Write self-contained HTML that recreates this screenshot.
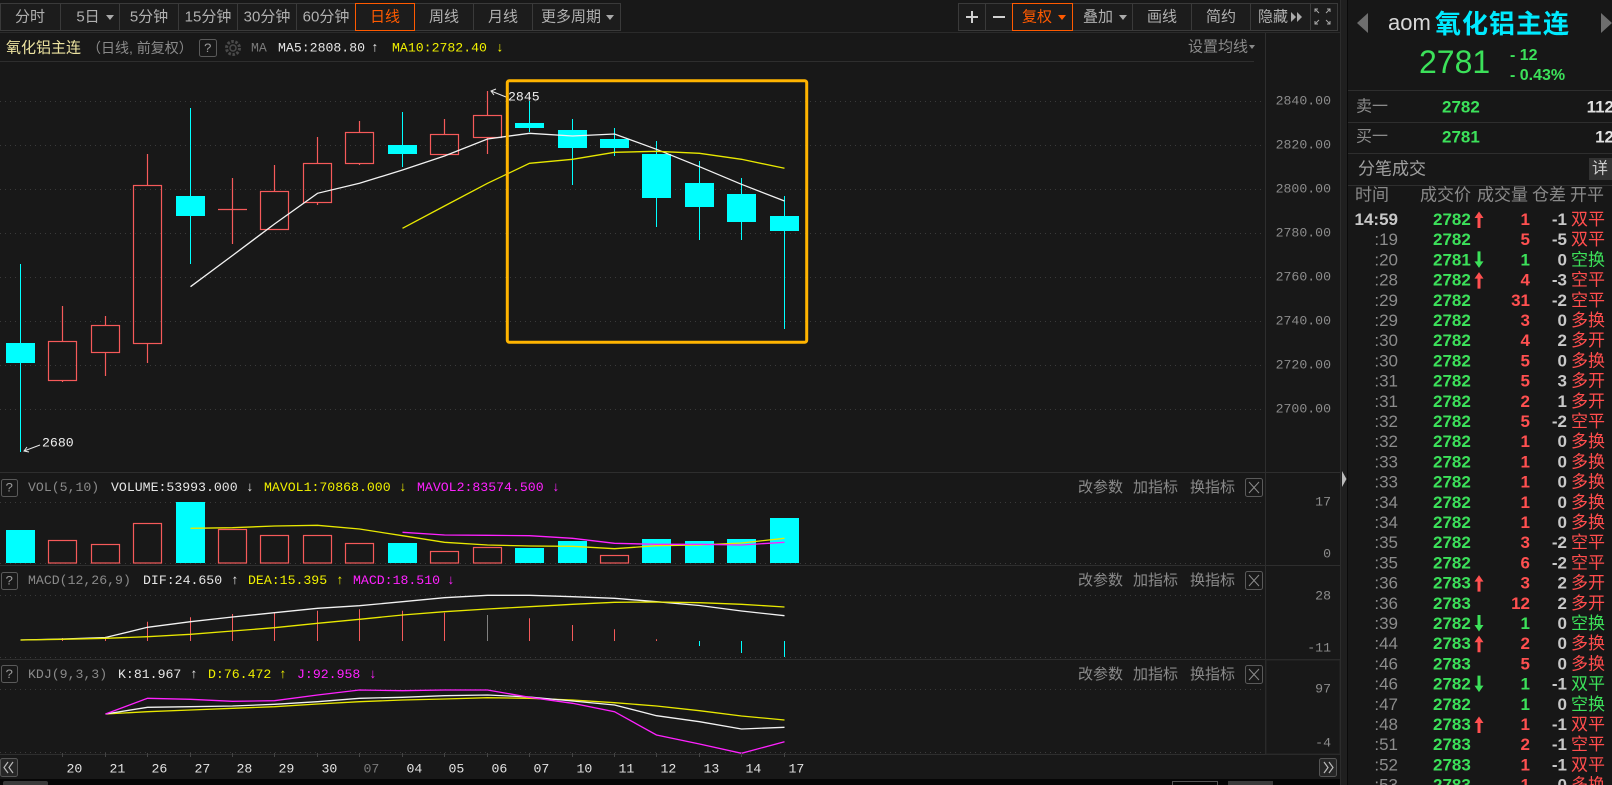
<!DOCTYPE html>
<html><head><meta charset="utf-8">
<style>
html,body{margin:0;padding:0;background:#181818;width:1612px;height:785px;overflow:hidden}
svg{display:block}
.m{font-family:"Liberation Mono","DejaVu Sans Mono",monospace;font-size:13.2px}
.s{font-family:"Liberation Sans","Noto Sans CJK SC",sans-serif}
</style></head><body>
<svg width="1612" height="785" viewBox="0 0 1612 785" xmlns="http://www.w3.org/2000/svg">
<rect x="0" y="0" width="1612" height="785" fill="#181818"/>

<!-- toolbar left -->
<g fill="#1c1c1c" stroke="#3a3a3a" stroke-width="1">
<rect x="0.5" y="3.5" width="60" height="27"/>
<rect x="60.5" y="3.5" width="59" height="27"/>
<rect x="119.5" y="3.5" width="59" height="27"/>
<rect x="178.5" y="3.5" width="59" height="27"/>
<rect x="237.5" y="3.5" width="59" height="27"/>
<rect x="296.5" y="3.5" width="59" height="27"/>
<rect x="414.5" y="3.5" width="59" height="27"/>
<rect x="473.5" y="3.5" width="59" height="27"/>
<rect x="532.5" y="3.5" width="88" height="27"/>
</g>
<rect x="355.5" y="3.5" width="59" height="27" fill="#1c1c1c" stroke="#ff5a00"/>
<g class="s" font-size="15" fill="#b0b0b0" text-anchor="middle" dominant-baseline="central">
<text x="30" y="17">分时</text>
<text x="88" y="17">5日</text>
<text x="149" y="17">5分钟</text>
<text x="208" y="17">15分钟</text>
<text x="267" y="17">30分钟</text>
<text x="326" y="17">60分钟</text>
<text x="385" y="17" fill="#ff5a00">日线</text>
<text x="444" y="17">周线</text>
<text x="503" y="17">月线</text>
<text x="571" y="17">更多周期</text>
</g>
<polygon points="106,15 114,15 110,20" fill="#aaa"/>
<polygon points="606,15 614,15 610,20" fill="#aaa"/>

<!-- toolbar right -->
<g fill="#1c1c1c" stroke="#3a3a3a" stroke-width="1">
<rect x="958.5" y="3.5" width="27" height="27"/>
<rect x="985.5" y="3.5" width="27" height="27"/>
<rect x="1072.5" y="3.5" width="60" height="27"/>
<rect x="1132.5" y="3.5" width="59" height="27"/>
<rect x="1191.5" y="3.5" width="59" height="27"/>
<rect x="1250.5" y="3.5" width="60" height="27"/>
<rect x="1310.5" y="3.5" width="27" height="27"/>
</g>
<rect x="1012.5" y="3.5" width="60" height="27" fill="#1c1c1c" stroke="#ff5a00"/>
<g stroke="#d0d0d0" stroke-width="2">
<line x1="966" y1="17" x2="978" y2="17"/><line x1="972" y1="11" x2="972" y2="23"/>
<line x1="993" y1="17" x2="1005" y2="17"/>
</g>
<g class="s" font-size="15" fill="#b0b0b0" text-anchor="middle" dominant-baseline="central">
<text x="1037" y="17" fill="#ff5a00">复权</text>
<text x="1098" y="17">叠加</text>
<text x="1162" y="17">画线</text>
<text x="1221" y="17">简约</text>
<text x="1273" y="17">隐藏</text>
</g>
<polygon points="1058,15 1066,15 1062,20" fill="#ff5a00"/>
<polygon points="1119,15 1127,15 1123,20" fill="#aaa"/>
<polygon points="1291,12 1296,17 1291,22" fill="#aaa"/>
<polygon points="1297,12 1302,17 1297,22" fill="#aaa"/>
<g stroke="#aaa" stroke-width="1" fill="none">
<polyline points="1315,12 1315,9 1318,9"/><line x1="1315" y1="9" x2="1319" y2="13"/>
<polyline points="1327,9 1330,9 1330,12"/><line x1="1330" y1="9" x2="1326" y2="13"/>
<polyline points="1315,21 1315,24 1318,24"/><line x1="1315" y1="24" x2="1319" y2="20"/>
<polyline points="1327,24 1330,24 1330,21"/><line x1="1330" y1="24" x2="1326" y2="20"/>
</g>
<line x1="0" y1="32.5" x2="1340" y2="32.5" stroke="#2a2a2a"/>

<!-- info row -->
<text class="s" x="6" y="48" font-size="15" fill="#ede3a0" dominant-baseline="central">氧化铝主连</text>
<text class="s" x="87" y="48" font-size="14" fill="#8a8a8a" dominant-baseline="central">（日线, 前复权）</text>
<rect x="199.5" y="39.5" width="17" height="17" rx="2" fill="none" stroke="#5a5a5a"/>
<text class="m" x="208" y="48.5" fill="#9a9a9a" text-anchor="middle" dominant-baseline="central">?</text>
<circle cx="233" cy="48" r="6.5" fill="none" stroke="#4a4a4a" stroke-width="3" stroke-dasharray="2.5 1.6"/>
<circle cx="233" cy="48" r="3" fill="none" stroke="#4a4a4a" stroke-width="1.5"/>
<g class="m" dominant-baseline="central">
<text x="251" y="48" fill="#7a7a7a">MA</text>
<text x="278" y="48" fill="#e6e6e6">MA5:2808.80</text>
<text x="371" y="48" fill="#e6e6e6">↑</text>
<text x="392" y="48" fill="#f0f000">MA10:2782.40</text>
<text x="496" y="48" fill="#f0f000">↓</text>
</g>
<text class="s" x="1248" y="47" font-size="15" fill="#8a8a8a" text-anchor="end" dominant-baseline="central">设置均线</text>
<polygon points="1249,45 1255,45 1252,49" fill="#8a8a8a"/>
<line x1="0" y1="61.5" x2="1254" y2="61.5" stroke="#2e2e2e"/>

<!-- axis separator -->
<line x1="1265.5" y1="33" x2="1265.5" y2="754" stroke="#2e2e2e"/>

<!-- price grid -->
<g stroke="#3a3a3a" stroke-dasharray="1 4">
<line x1="0" y1="101.5" x2="1262" y2="101.5"/>
<line x1="0" y1="145.5" x2="1262" y2="145.5"/>
<line x1="0" y1="189.5" x2="1262" y2="189.5"/>
<line x1="0" y1="233.5" x2="1262" y2="233.5"/>
<line x1="0" y1="277.5" x2="1262" y2="277.5"/>
<line x1="0" y1="321.5" x2="1262" y2="321.5"/>
<line x1="0" y1="365.5" x2="1262" y2="365.5"/>
<line x1="0" y1="409.5" x2="1262" y2="409.5"/>
</g>
<g class="m" fill="#8c8c8c" text-anchor="end" dominant-baseline="central" font-size="13">
<text x="1331" y="101">2840.00</text>
<text x="1331" y="145">2820.00</text>
<text x="1331" y="189">2800.00</text>
<text x="1331" y="233">2780.00</text>
<text x="1331" y="277">2760.00</text>
<text x="1331" y="321">2740.00</text>
<text x="1331" y="365">2720.00</text>
<text x="1331" y="409">2700.00</text>
</g>

<!-- candles -->
<g stroke="#00ffff" stroke-width="1">
<line x1="20.5" y1="264" x2="20.5" y2="452"/>
<line x1="190.5" y1="108" x2="190.5" y2="264"/>
<line x1="402.5" y1="112" x2="402.5" y2="167"/>
<line x1="529.5" y1="101" x2="529.5" y2="132"/>
<line x1="572.5" y1="119" x2="572.5" y2="185"/>
<line x1="614.5" y1="128" x2="614.5" y2="156"/>
<line x1="656.5" y1="141" x2="656.5" y2="227"/>
<line x1="699.5" y1="161" x2="699.5" y2="240"/>
<line x1="741.5" y1="178" x2="741.5" y2="240"/>
<line x1="784.5" y1="196" x2="784.5" y2="329"/>
</g>
<g fill="#00ffff">
<rect x="6" y="343" width="29" height="20"/>
<rect x="176" y="196" width="29" height="20"/>
<rect x="388" y="145" width="29" height="9"/>
<rect x="515" y="123" width="29" height="5"/>
<rect x="558" y="130" width="29" height="18"/>
<rect x="600" y="139" width="29" height="9"/>
<rect x="642" y="154" width="29" height="44"/>
<rect x="685" y="183" width="29" height="24"/>
<rect x="727" y="194" width="29" height="28"/>
<rect x="770" y="216" width="29" height="15"/>
</g>
<g stroke="#f55a5a" stroke-width="1.2" fill="none">
<line x1="62.5" y1="306" x2="62.5" y2="341.5"/><rect x="48.5" y="341.5" width="28" height="39"/><line x1="62.5" y1="380.5" x2="62.5" y2="382"/>
<line x1="105.5" y1="316" x2="105.5" y2="325.5"/><rect x="91.5" y="325.5" width="28" height="27"/><line x1="105.5" y1="352.5" x2="105.5" y2="376"/>
<line x1="147.5" y1="154" x2="147.5" y2="185.5"/><rect x="133.5" y="185.5" width="28" height="158"/><line x1="147.5" y1="343.5" x2="147.5" y2="363"/>
<line x1="232.5" y1="178" x2="232.5" y2="244"/><line x1="218" y1="209.5" x2="247" y2="209.5"/>
<line x1="274.5" y1="165" x2="274.5" y2="191.5"/><rect x="260.5" y="191.5" width="28" height="38"/>
<line x1="317.5" y1="137" x2="317.5" y2="163.5"/><rect x="303.5" y="163.5" width="28" height="39"/><line x1="317.5" y1="202.5" x2="317.5" y2="205"/>
<line x1="359.5" y1="121" x2="359.5" y2="132.5"/><rect x="345.5" y="132.5" width="28" height="31"/><line x1="359.5" y1="163.5" x2="359.5" y2="165"/>
<line x1="444.5" y1="119" x2="444.5" y2="134.5"/><rect x="430.5" y="134.5" width="28" height="20"/>
<line x1="487.5" y1="91" x2="487.5" y2="115.5"/><rect x="473.5" y="115.5" width="28" height="22"/><line x1="487.5" y1="137.5" x2="487.5" y2="154"/>
</g>

<!-- MA lines -->
<polyline fill="none" stroke="#f2f2f2" stroke-width="1.3" points="190.5,286.7 232.5,255.5 274.5,224 317.5,193.3 359.5,183.3 402.5,170 444.5,156 487.5,139 529.5,133.3 572.5,136 614.5,134 656.5,149.3 699.5,166.7 741.5,184.3 784.5,201"/>
<polyline fill="none" stroke="#e8e800" stroke-width="1.3" points="402.5,228.3 444.5,206 487.5,183.3 529.5,163.3 572.5,159.3 614.5,152.3 656.5,151.3 699.5,153.3 741.5,159.3 784.5,168.3"/>

<!-- high/low labels -->
<g stroke="#e6e6e6" stroke-width="1" fill="none">
<line x1="491" y1="91" x2="506" y2="97"/>
<polyline points="496,89 491,91 494,95"/>
<line x1="24" y1="451" x2="40" y2="445"/>
<polyline points="27,447 24,451 29,452"/>
</g>
<text class="m" x="508" y="97" fill="#eeeeee" font-size="13" dominant-baseline="central">2845</text>
<text class="m" x="42" y="443" fill="#eeeeee" font-size="13" dominant-baseline="central">2680</text>

<!-- highlight box -->
<rect x="507.3" y="80.7" width="299.4" height="261.6" rx="2" fill="none" stroke="#ffb400" stroke-width="3"/>

<!-- panel separators -->
<g stroke="#2e2e2e" stroke-width="1">
<line x1="0" y1="472.5" x2="1340" y2="472.5"/>
<line x1="0" y1="565.5" x2="1340" y2="565.5"/>
<line x1="0" y1="659.5" x2="1340" y2="659.5"/>
<line x1="0" y1="754.5" x2="1340" y2="754.5"/>
</g>
<rect x="1266" y="660" width="74" height="94" fill="none" stroke="#262626"/>

<!-- sub-panel dotted lines -->
<g stroke="#3a3a3a" stroke-dasharray="1 4">
<line x1="0" y1="502.5" x2="1262" y2="502.5"/>
<line x1="0" y1="563.5" x2="1262" y2="563.5"/>
<line x1="0" y1="595.5" x2="1262" y2="595.5"/>
<line x1="0" y1="657.5" x2="1262" y2="657.5"/>
<line x1="0" y1="689.5" x2="1262" y2="689.5"/>
<line x1="0" y1="752.5" x2="1262" y2="752.5"/>
</g>

<!-- sub-panel headers -->
<g fill="none" stroke="#5a5a5a">
<rect x="1.5" y="479.5" width="16" height="17" rx="2"/>
<rect x="1.5" y="572.5" width="16" height="17" rx="2"/>
<rect x="1.5" y="665.5" width="16" height="17" rx="2"/>
<rect x="1245.5" y="478.5" width="17" height="18" rx="2"/>
<rect x="1245.5" y="571.5" width="17" height="18" rx="2"/>
<rect x="1245.5" y="665.5" width="17" height="18" rx="2"/>
</g>
<g stroke="#8a8a8a" stroke-width="1">
<line x1="1249" y1="482" x2="1259" y2="493"/><line x1="1259" y1="482" x2="1249" y2="493"/>
<line x1="1249" y1="575" x2="1259" y2="586"/><line x1="1259" y1="575" x2="1249" y2="586"/>
<line x1="1249" y1="669" x2="1259" y2="680"/><line x1="1259" y1="669" x2="1249" y2="680"/>
</g>
<g class="m" dominant-baseline="central">
<text x="9.5" y="488" fill="#9a9a9a" text-anchor="middle">?</text>
<text x="9.5" y="581" fill="#9a9a9a" text-anchor="middle">?</text>
<text x="9.5" y="674.5" fill="#9a9a9a" text-anchor="middle">?</text>
<text x="28" y="487.5" fill="#8a8a8a">VOL(5,10)</text>
<text x="111" y="487.5" fill="#e6e6e6">VOLUME:53993.000</text>
<text x="246" y="487.5" fill="#e6e6e6">↓</text>
<text x="264" y="487.5" fill="#f0f000">MAVOL1:70868.000</text>
<text x="399" y="487.5" fill="#f0f000">↓</text>
<text x="417" y="487.5" fill="#ff22ff">MAVOL2:83574.500</text>
<text x="552" y="487.5" fill="#ff22ff">↓</text>
<text x="28" y="580.7" fill="#8a8a8a">MACD(12,26,9)</text>
<text x="143" y="580.7" fill="#e6e6e6">DIF:24.650</text>
<text x="231" y="580.7" fill="#e6e6e6">↑</text>
<text x="248" y="580.7" fill="#f0f000">DEA:15.395</text>
<text x="336" y="580.7" fill="#f0f000">↑</text>
<text x="353" y="580.7" fill="#ff22ff">MACD:18.510</text>
<text x="447" y="580.7" fill="#ff22ff">↓</text>
<text x="28" y="674.3" fill="#8a8a8a">KDJ(9,3,3)</text>
<text x="118" y="674.3" fill="#e6e6e6">K:81.967</text>
<text x="190" y="674.3" fill="#e6e6e6">↑</text>
<text x="208" y="674.3" fill="#f0f000">D:76.472</text>
<text x="279" y="674.3" fill="#f0f000">↑</text>
<text x="297" y="674.3" fill="#ff22ff">J:92.958</text>
<text x="369" y="674.3" fill="#ff22ff">↓</text>
</g>
<g class="s" font-size="15" fill="#8a8a8a" dominant-baseline="central">
<text x="1078" y="487.5">改参数</text><text x="1133" y="487.5">加指标</text><text x="1190" y="487.5">换指标</text>
<text x="1078" y="580.7">改参数</text><text x="1133" y="580.7">加指标</text><text x="1190" y="580.7">换指标</text>
<text x="1078" y="674.3">改参数</text><text x="1133" y="674.3">加指标</text><text x="1190" y="674.3">换指标</text>
</g>
<g class="m" fill="#8c8c8c" text-anchor="end" dominant-baseline="central" font-size="13">
<text x="1331" y="502">17</text>
<text x="1331" y="554">0</text>
<text x="1331" y="596">28</text>
<text x="1331" y="648">-11</text>
<text x="1331" y="689">97</text>
<text x="1331" y="743">-4</text>
</g>

<!-- volume bars -->
<g fill="#00ffff">
<rect x="6" y="530" width="29" height="33"/>
<rect x="176" y="502" width="29" height="61"/>
<rect x="388" y="543" width="29" height="20"/>
<rect x="515" y="548" width="29" height="15"/>
<rect x="558" y="541" width="29" height="22"/>
<rect x="642" y="539" width="29" height="24"/>
<rect x="685" y="541" width="29" height="22"/>
<rect x="727" y="539" width="29" height="24"/>
<rect x="770" y="518" width="29" height="45"/>
</g>
<g fill="none" stroke="#f55a5a" stroke-width="1.2">
<rect x="48.5" y="540.5" width="28" height="22.5"/>
<rect x="91.5" y="544.5" width="28" height="18.5"/>
<rect x="133.5" y="523.5" width="28" height="39.5"/>
<rect x="218.5" y="529.5" width="28" height="33.5"/>
<rect x="260.5" y="535.5" width="28" height="27.5"/>
<rect x="303.5" y="535.5" width="28" height="27.5"/>
<rect x="345.5" y="543.5" width="28" height="19.5"/>
<rect x="430.5" y="551.5" width="28" height="11.5"/>
<rect x="473.5" y="547.5" width="28" height="15.5"/>
<rect x="600.5" y="555.5" width="28" height="7.5"/>
</g>
<polyline fill="none" stroke="#e8e800" stroke-width="1.3" points="190.5,528.3 232.5,527.7 274.5,526 317.5,525.3 359.5,529 402.5,535.7 444.5,542.3 487.5,545 529.5,546 572.5,546.3 614.5,548.7 656.5,545.7 699.5,545 741.5,543 784.5,538.3"/>
<polyline fill="none" stroke="#ff22ff" stroke-width="1.3" points="402.5,532.3 444.5,535 487.5,535.3 529.5,535.7 572.5,538.3 614.5,543.3 656.5,544.3 699.5,544.3 741.5,545 784.5,542.3"/>

<!-- MACD -->
<g stroke="#f55a5a" stroke-width="1">
<line x1="62.5" y1="638" x2="62.5" y2="641"/>
<line x1="105.5" y1="636.7" x2="105.5" y2="641"/>
<line x1="147.5" y1="621.7" x2="147.5" y2="641"/>
<line x1="190.5" y1="617.3" x2="190.5" y2="641"/>
<line x1="232.5" y1="614" x2="232.5" y2="641"/>
<line x1="274.5" y1="612.7" x2="274.5" y2="641"/>
<line x1="317.5" y1="610.7" x2="317.5" y2="641"/>
<line x1="359.5" y1="609.3" x2="359.5" y2="641"/>
<line x1="402.5" y1="610.7" x2="402.5" y2="641"/>
<line x1="444.5" y1="612.7" x2="444.5" y2="641"/>
<line x1="529.5" y1="618.3" x2="529.5" y2="641"/>
<line x1="572.5" y1="625" x2="572.5" y2="641"/>
<line x1="614.5" y1="629.3" x2="614.5" y2="641"/>
<line x1="656.5" y1="639.3" x2="656.5" y2="641"/>
</g>
<line x1="487.5" y1="615" x2="487.5" y2="641" stroke="#808080"/>
<g stroke="#00ffff" stroke-width="1">
<line x1="699.5" y1="641" x2="699.5" y2="646"/>
<line x1="741.5" y1="641" x2="741.5" y2="653"/>
<line x1="784.5" y1="641" x2="784.5" y2="657"/>
</g>
<polyline fill="none" stroke="#f2f2f2" stroke-width="1.3" points="20.5,640 62.5,639 105.5,637.5 147.5,627.3 190.5,621.7 232.5,617 274.5,612.7 317.5,608.3 359.5,605.7 402.5,601.7 444.5,597.7 487.5,595.3 529.5,595.3 572.5,596.7 614.5,598.3 656.5,601.7 699.5,605.5 741.5,611 784.5,615.7"/>
<polyline fill="none" stroke="#e8e800" stroke-width="1.3" points="20.5,640 62.5,639.3 105.5,638.3 147.5,636.7 190.5,634.3 232.5,631 274.5,627.7 317.5,623.3 359.5,619.3 402.5,615 444.5,611.7 487.5,609 529.5,606.7 572.5,604.3 614.5,602.3 656.5,602 699.5,602.7 741.5,604.3 784.5,607"/>

<!-- KDJ -->
<polyline fill="none" stroke="#e8e800" stroke-width="1.3" points="105.5,714 147.5,711.7 190.5,710 232.5,708.3 274.5,706.7 317.5,704 359.5,701.7 402.5,700 444.5,699 487.5,697.7 529.5,698.3 572.5,700 614.5,702.7 656.5,706 699.5,710.7 741.5,716 784.5,720"/>
<polyline fill="none" stroke="#f2f2f2" stroke-width="1.3" points="105.5,714 147.5,707.3 190.5,706.7 232.5,706 274.5,704.3 317.5,701.7 359.5,698.3 402.5,697.3 444.5,695.7 487.5,695 529.5,697 572.5,701 614.5,705 656.5,715.7 699.5,721.7 741.5,729 784.5,727.3"/>
<polyline fill="none" stroke="#ff22ff" stroke-width="1.3" points="105.5,714 147.5,698.3 190.5,699.3 232.5,701.3 274.5,700.7 317.5,695 359.5,690 402.5,690.7 444.5,690 487.5,690 529.5,697.3 572.5,703.3 614.5,711.7 656.5,735 699.5,744 741.5,753.3 784.5,741.7"/>

<!-- x axis -->
<g stroke="#444" stroke-width="1">
<line x1="62.5" y1="753" x2="62.5" y2="757"/><line x1="105.5" y1="753" x2="105.5" y2="757"/>
<line x1="147.5" y1="753" x2="147.5" y2="757"/><line x1="190.5" y1="753" x2="190.5" y2="757"/>
<line x1="232.5" y1="753" x2="232.5" y2="757"/><line x1="274.5" y1="753" x2="274.5" y2="757"/>
<line x1="317.5" y1="753" x2="317.5" y2="757"/><line x1="359.5" y1="753" x2="359.5" y2="757"/>
<line x1="402.5" y1="753" x2="402.5" y2="757"/><line x1="444.5" y1="753" x2="444.5" y2="757"/>
<line x1="487.5" y1="753" x2="487.5" y2="757"/><line x1="529.5" y1="753" x2="529.5" y2="757"/>
<line x1="572.5" y1="753" x2="572.5" y2="757"/><line x1="614.5" y1="753" x2="614.5" y2="757"/>
<line x1="656.5" y1="753" x2="656.5" y2="757"/><line x1="699.5" y1="753" x2="699.5" y2="757"/>
<line x1="741.5" y1="753" x2="741.5" y2="757"/><line x1="784.5" y1="753" x2="784.5" y2="757"/>
</g>
<g class="m" font-size="13" fill="#e2e2e2" dominant-baseline="central">
<text x="66.5" y="769">20</text>
<text x="109.5" y="769">21</text>
<text x="151.5" y="769">26</text>
<text x="194.5" y="769">27</text>
<text x="236.5" y="769">28</text>
<text x="278.5" y="769">29</text>
<text x="321.5" y="769">30</text>
<text x="363.5" y="769" fill="#7a7a7a">07</text>
<text x="406.5" y="769">04</text>
<text x="448.5" y="769">05</text>
<text x="491.5" y="769">06</text>
<text x="533.5" y="769">07</text>
<text x="576.5" y="769">10</text>
<text x="618.5" y="769">11</text>
<text x="660.5" y="769">12</text>
<text x="703.5" y="769">13</text>
<text x="745.5" y="769">14</text>
<text x="788.5" y="769">17</text>
</g>
<rect x="0.5" y="758.5" width="17" height="18" rx="2" fill="#262626" stroke="#555"/>
<g fill="none" stroke="#bbb" stroke-width="1.2">
<polyline points="8,762 4,767.5 8,773"/><polyline points="13,762 9,767.5 13,773"/>
</g>
<rect x="1319.5" y="758.5" width="17" height="18" rx="2" fill="#262626" stroke="#555"/>
<g fill="none" stroke="#bbb" stroke-width="1.2">
<polyline points="1324,762 1328,767.5 1324,773"/><polyline points="1329,762 1333,767.5 1329,773"/>
</g>
<rect x="0" y="779" width="1348" height="6" fill="#060606"/>
<rect x="3" y="781" width="45" height="5" rx="2" fill="#3a3a3a"/>
<rect x="1172.5" y="781.5" width="45" height="5" fill="none" stroke="#555"/>
<rect x="1228" y="781" width="45" height="5" fill="#3a3a3a"/>

<!-- divider strip -->
<rect x="1340" y="0" width="8" height="785" fill="#1f1f1f"/>
<line x1="1340.5" y1="0" x2="1340.5" y2="785" stroke="#2c2c2c"/>
<line x1="1347.5" y1="0" x2="1347.5" y2="785" stroke="#0a0a0a"/>
<polygon points="1342,471 1346.5,479 1342,487" fill="#bbbbbb"/>

<!-- right panel -->
<rect x="1348" y="0" width="264" height="785" fill="#171717"/>
<polygon points="1368,13 1357,23 1368,33" fill="#6e6e6e"/>
<polygon points="1601,13 1612,23 1601,33" fill="#6e6e6e"/>
<text class="s" x="1388" y="30" font-size="22" fill="#d8d8d8">aom</text>
<text class="s" x="1435" y="24" font-size="26" font-weight="bold" fill="#00eaff" letter-spacing="1" dominant-baseline="central">氧化铝主连</text>
<text class="s" x="1419" y="73" font-size="32" fill="#3ce15a">2781</text>
<text class="s" x="1510" y="60" font-size="16" font-weight="bold" fill="#3ce15a">- 12</text>
<text class="s" x="1510" y="80" font-size="16" font-weight="bold" fill="#3ce15a">- 0.43%</text>
<g stroke="#2e2e2e">
<line x1="1348" y1="90.5" x2="1612" y2="90.5"/>
<line x1="1348" y1="122.5" x2="1612" y2="122.5"/>
<line x1="1348" y1="153.5" x2="1612" y2="153.5"/>
<line x1="1348" y1="185.5" x2="1612" y2="185.5"/>
</g>
<g class="s" dominant-baseline="central">
<text x="1356" y="107" font-size="16" fill="#8a8a8a">卖一</text>
<text x="1442" y="107" font-size="17" font-weight="bold" fill="#3ce15a">2782</text>
<text x="1614" y="107" font-size="17" font-weight="bold" fill="#e0e0e0" text-anchor="end">112</text>
<text x="1356" y="137" font-size="16" fill="#8a8a8a">买一</text>
<text x="1442" y="137" font-size="17" font-weight="bold" fill="#3ce15a">2781</text>
<text x="1614" y="137" font-size="17" font-weight="bold" fill="#e0e0e0" text-anchor="end">12</text>
<text x="1358" y="169" font-size="17" fill="#a0a0a0">分笔成交</text>
</g>
<rect x="1589" y="158" width="23" height="22" fill="#333"/>
<text class="s" x="1600" y="169" font-size="16" fill="#cccccc" text-anchor="middle" dominant-baseline="central">详</text>
<g class="s" font-size="17" fill="#8a8a8a" dominant-baseline="central">
<text x="1355" y="195">时间</text>
<text x="1420" y="195">成交价</text>
<text x="1477" y="195">成交量</text>
<text x="1532" y="195">仓差</text>
<text x="1570" y="195">开平</text>
</g>

<!-- trade rows: time -->
<g class="s" font-size="17" fill="#8c8c8c" text-anchor="end" dominant-baseline="central">
<text x="1398" y="219.5" font-weight="bold" fill="#c8c8c8">14:59</text>
<text x="1398" y="239.7">:19</text><text x="1398" y="259.9">:20</text><text x="1398" y="280.1">:28</text>
<text x="1398" y="300.3">:29</text><text x="1398" y="320.5">:29</text><text x="1398" y="340.7">:30</text>
<text x="1398" y="360.9">:30</text><text x="1398" y="381.1">:31</text><text x="1398" y="401.3">:31</text>
<text x="1398" y="421.5">:32</text><text x="1398" y="441.7">:32</text><text x="1398" y="461.9">:33</text>
<text x="1398" y="482.1">:33</text><text x="1398" y="502.3">:34</text><text x="1398" y="522.5">:34</text>
<text x="1398" y="542.7">:35</text><text x="1398" y="562.9">:35</text><text x="1398" y="583.1">:36</text>
<text x="1398" y="603.3">:36</text><text x="1398" y="623.5">:39</text><text x="1398" y="643.7">:44</text>
<text x="1398" y="663.9">:46</text><text x="1398" y="684.1">:46</text><text x="1398" y="704.3">:47</text>
<text x="1398" y="724.5">:48</text><text x="1398" y="744.7">:51</text><text x="1398" y="764.9">:52</text>
<text x="1398" y="785.1">:53</text>
</g>
<!-- price -->
<g class="s" font-size="17" font-weight="bold" fill="#3ce15a" dominant-baseline="central">
<text x="1433" y="219.5">2782</text><text x="1433" y="239.7">2782</text><text x="1433" y="259.9">2781</text>
<text x="1433" y="280.1">2782</text><text x="1433" y="300.3">2782</text><text x="1433" y="320.5">2782</text>
<text x="1433" y="340.7">2782</text><text x="1433" y="360.9">2782</text><text x="1433" y="381.1">2782</text>
<text x="1433" y="401.3">2782</text><text x="1433" y="421.5">2782</text><text x="1433" y="441.7">2782</text>
<text x="1433" y="461.9">2782</text><text x="1433" y="482.1">2782</text><text x="1433" y="502.3">2782</text>
<text x="1433" y="522.5">2782</text><text x="1433" y="542.7">2782</text><text x="1433" y="562.9">2782</text>
<text x="1433" y="583.1">2783</text><text x="1433" y="603.3">2783</text><text x="1433" y="623.5">2782</text>
<text x="1433" y="643.7">2783</text><text x="1433" y="663.9">2783</text><text x="1433" y="684.1">2782</text>
<text x="1433" y="704.3">2782</text><text x="1433" y="724.5">2783</text><text x="1433" y="744.7">2783</text>
<text x="1433" y="764.9">2783</text><text x="1433" y="785.1">2783</text>
</g>
<!-- arrows -->
<g fill="#ff5050">
<polygon points="1479,211.5 1474.5,218 1477.5,218 1477.5,228 1480.5,228 1480.5,218 1483.5,218"/>
<polygon points="1479,272.1 1474.5,278.6 1477.5,278.6 1477.5,288.6 1480.5,288.6 1480.5,278.6 1483.5,278.6"/>
<polygon points="1479,575.1 1474.5,581.6 1477.5,581.6 1477.5,591.6 1480.5,591.6 1480.5,581.6 1483.5,581.6"/>
<polygon points="1479,635.7 1474.5,642.2 1477.5,642.2 1477.5,652.2 1480.5,652.2 1480.5,642.2 1483.5,642.2"/>
<polygon points="1479,716.5 1474.5,723 1477.5,723 1477.5,733 1480.5,733 1480.5,723 1483.5,723"/>
</g>
<g fill="#3ce15a">
<polygon points="1479,267.9 1474.5,261.4 1477.5,261.4 1477.5,251.4 1480.5,251.4 1480.5,261.4 1483.5,261.4"/>
<polygon points="1479,631.5 1474.5,625 1477.5,625 1477.5,615 1480.5,615 1480.5,625 1483.5,625"/>
<polygon points="1479,692.1 1474.5,685.6 1477.5,685.6 1477.5,675.6 1480.5,675.6 1480.5,685.6 1483.5,685.6"/>
</g>
<!-- volume -->
<g class="s" font-size="17" font-weight="bold" fill="#ff5050" text-anchor="end" dominant-baseline="central">
<text x="1530" y="219.5">1</text><text x="1530" y="239.7">5</text><text x="1530" y="259.9" fill="#3ce15a">1</text>
<text x="1530" y="280.1">4</text><text x="1530" y="300.3">31</text><text x="1530" y="320.5">3</text>
<text x="1530" y="340.7">4</text><text x="1530" y="360.9">5</text><text x="1530" y="381.1">5</text>
<text x="1530" y="401.3">2</text><text x="1530" y="421.5">5</text><text x="1530" y="441.7">1</text>
<text x="1530" y="461.9">1</text><text x="1530" y="482.1">1</text><text x="1530" y="502.3">1</text>
<text x="1530" y="522.5">1</text><text x="1530" y="542.7">3</text><text x="1530" y="562.9">6</text>
<text x="1530" y="583.1">3</text><text x="1530" y="603.3">12</text><text x="1530" y="623.5" fill="#3ce15a">1</text>
<text x="1530" y="643.7">2</text><text x="1530" y="663.9">5</text><text x="1530" y="684.1" fill="#3ce15a">1</text>
<text x="1530" y="704.3" fill="#3ce15a">1</text><text x="1530" y="724.5">1</text><text x="1530" y="744.7">2</text>
<text x="1530" y="764.9">1</text><text x="1530" y="785.1">1</text>
</g>
<!-- position diff -->
<g class="s" font-size="17" font-weight="bold" fill="#c8c8c8" text-anchor="end" dominant-baseline="central">
<text x="1567" y="219.5">-1</text><text x="1567" y="239.7">-5</text><text x="1567" y="259.9">0</text>
<text x="1567" y="280.1">-3</text><text x="1567" y="300.3">-2</text><text x="1567" y="320.5">0</text>
<text x="1567" y="340.7">2</text><text x="1567" y="360.9">0</text><text x="1567" y="381.1">3</text>
<text x="1567" y="401.3">1</text><text x="1567" y="421.5">-2</text><text x="1567" y="441.7">0</text>
<text x="1567" y="461.9">0</text><text x="1567" y="482.1">0</text><text x="1567" y="502.3">0</text>
<text x="1567" y="522.5">0</text><text x="1567" y="542.7">-2</text><text x="1567" y="562.9">-2</text>
<text x="1567" y="583.1">2</text><text x="1567" y="603.3">2</text><text x="1567" y="623.5">0</text>
<text x="1567" y="643.7">0</text><text x="1567" y="663.9">0</text><text x="1567" y="684.1">-1</text>
<text x="1567" y="704.3">0</text><text x="1567" y="724.5">-1</text><text x="1567" y="744.7">-1</text>
<text x="1567" y="764.9">-1</text><text x="1567" y="785.1">0</text>
</g>
<!-- open/close -->
<g class="s" font-size="17" fill="#ff4d4d" dominant-baseline="central">
<text x="1571" y="219.5">双平</text><text x="1571" y="239.7">双平</text><text x="1571" y="259.9" fill="#3ce15a">空换</text>
<text x="1571" y="280.1">空平</text><text x="1571" y="300.3">空平</text><text x="1571" y="320.5">多换</text>
<text x="1571" y="340.7">多开</text><text x="1571" y="360.9">多换</text><text x="1571" y="381.1">多开</text>
<text x="1571" y="401.3">多开</text><text x="1571" y="421.5">空平</text><text x="1571" y="441.7">多换</text>
<text x="1571" y="461.9">多换</text><text x="1571" y="482.1">多换</text><text x="1571" y="502.3">多换</text>
<text x="1571" y="522.5">多换</text><text x="1571" y="542.7">空平</text><text x="1571" y="562.9">空平</text>
<text x="1571" y="583.1">多开</text><text x="1571" y="603.3">多开</text><text x="1571" y="623.5" fill="#3ce15a">空换</text>
<text x="1571" y="643.7">多换</text><text x="1571" y="663.9">多换</text><text x="1571" y="684.1" fill="#3ce15a">双平</text>
<text x="1571" y="704.3" fill="#3ce15a">空换</text><text x="1571" y="724.5">双平</text><text x="1571" y="744.7">空平</text>
<text x="1571" y="764.9">双平</text><text x="1571" y="785.1">多换</text>
</g>
</svg>
</body></html>
